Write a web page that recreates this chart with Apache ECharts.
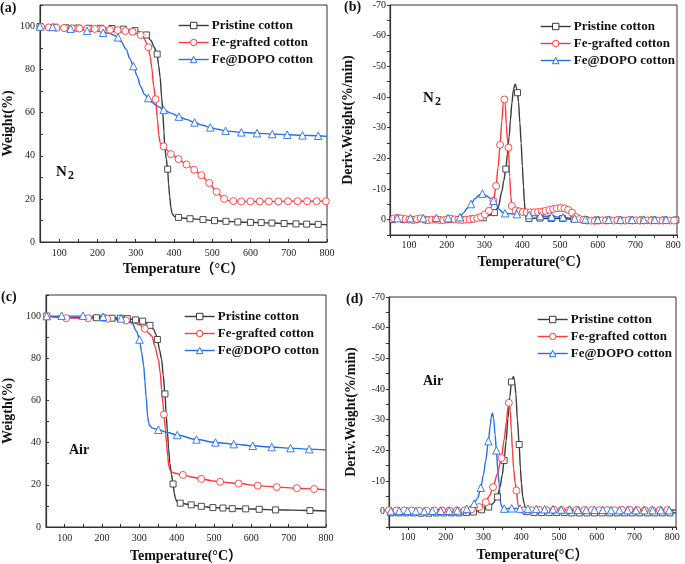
<!DOCTYPE html>
<html><head><meta charset="utf-8">
<script src="https://cdn.jsdelivr.net/npm/echarts@6/dist/echarts.min.js"></script>
<style>html,body{margin:0;padding:0;background:#fff}#c{width:685px;height:564px}</style>
</head><body><div id="c"></div>
<script>
const seriesNames = ['Pristine cotton', 'Fe-grafted cotton', 'Fe@DOPO cotton'];
const panelLabels = ['(a)', '(b)', '(c)', '(d)'];
const xTickLabels = [100, 200, 300, 400, 500, 600, 700, 800];
const tgaTickLabels = [0, 20, 40, 60, 80, 100];
const dtgTickLabels = [-70, -60, -50, -40, -30, -20, -10, 0];

// (a) TGA in N2
const aPristine = [[50,100],[100,99.6],[150,99.3],[200,99.2],[250,99.0],[280,98.6],[300,98.0],[315,97.2],[328,96.1],[340,93.5],[348,90.5],[356,87.2],[360,82],[364,76.5],[368,67],[371,59.8],[374,51],[376,44.3],[380,38.5],[383.6,33.8],[386,27],[389,21],[392,16],[395,13.4],[400,12],[406,11.5],[412,11.3],[442,10.8],[476,10.4],[506,9.9],[536,9.6],[567,9.3],[600,9.1],[628,9.0],[656,8.8],[688,8.6],[719,8.4],[747,8.3],[777,8.2],[800,8.0]];
const aPristineMarks = [[50,100],[88,99.7],[118,99.4],[148,99.3],[178,99.2],[208,99.2],[238,99.1],[268,98.8],[298,98.1],[328,96.1],[356.2,87.2],[383.6,33.8],[411.8,11.4],[442,10.8],[476,10.4],[506,9.9],[536,9.6],[567,9.3],[600,9.1],[628,9.0],[656,8.8],[688,8.6],[719,8.4],[747,8.3],[777,8.2]];
const aFe = [[50,100],[100,99.4],[150,99.1],[200,98.9],[250,98.3],[275,97.9],[292,97.6],[305,96.9],[313,96.1],[322,94.5],[328,92.5],[333,90.4],[338,86],[342,81],[347,72.5],[352,66.3],[357,56.7],[360.5,49.5],[364,46],[368,44.9],[373,44.4],[380,43],[392,40.8],[412,38.5],[433,36],[453,33.5],[471.5,31],[492,27.4],[511.6,23.3],[531,20],[545,19.1],[555,18.9],[600,18.8],[650,18.8],[700,18.9],[750,18.9],[800,18.9]];
const aFeMarks = [[53,99.8],[73,99.6],[93,99.4],[113,99.3],[133,99.2],[153,99.1],[173,99.0],[193,98.9],[213,98.8],[233,98.5],[253,98.3],[273,97.9],[292,97.6],[313,96.1],[333,90.4],[352,66.3],[373,44.4],[392,40.8],[412,38.5],[433,36],[453,33.5],[471.5,31],[492,27.4],[511.6,23.3],[531,20],[555,19],[576,18.8],[600,18.8],[624,18.8],[648,18.8],[673,18.8],[698,18.9],[723,18.9],[748,18.9],[773,18.9],[797,18.9]];
const aDopo = [[50,100],[100,99.3],[150,98.6],[200,97.8],[230,96.9],[250,95.5],[262,93],[275,89.5],[285,85],[294,81.7],[304,77],[313,72.2],[323,68.5],[333,66.8],[345,64.5],[352,63.7],[362,62.5],[373,61.3],[393,59.8],[413,58.2],[434,56.8],[454,55.5],[475,54.2],[495,53.2],[515,52.3],[535,51.6],[575,50.9],[616,50.5],[657,50.1],[696,49.8],[736,49.5],[777,49.3],[800,49.0]];
const aDopoMarks = [[50,100],[83,99.8],[130,99],[173,98],[215,97.1],[254,95],[294,81.7],[333,66.8],[373,61.3],[413,58.2],[454,55.5],[495,53.2],[535,51.6],[576,50.9],[617,50.5],[657,50.1],[696,49.8],[736,49.5],[777,49.3]];

// (b) DTG in N2
const bPristine = [[50,0],[100,0],[150,0.1],[200,0],[250,0],[280,-0.3],[300,-0.7],[315,-1.5],[326,-2.3],[337,-4.2],[346,-9.1],[351,-12.5],[356.7,-16.5],[361,-21.5],[365.5,-27],[369,-32.5],[372.6,-37.9],[377,-42.5],[381.4,-44.2],[384.5,-43.3],[387.6,-41.4],[390.2,-38.5],[394,-31.5],[397.3,-24.9],[400.5,-17.5],[403.5,-10.8],[406,-5.5],[408,-2.6],[411,-0.9],[418,-0.4],[440,-0.5],[470,-0.4],[500,-0.4],[530,-0.2],[560,0],[600,0.1],[650,0.1],[700,0.1],[750,0.1],[810,0.1]];
const bPristineMarks = [[57,0],[87,0],[117,0],[147,0.1],[177,0],[207,0],[237,0],[267,-0.2],[297,-0.6],[326.4,-2.3],[356.7,-16.5],[387.6,-41.4],[418,-0.4],[447,-0.5],[477,-0.4],[507,-0.4],[537,-0.2],[567,0],[597,0.1],[627,0.1],[657,0.1],[687,0.1],[717,0.1],[747,0.1],[777,0.1],[807,0.1]];
const bFe = [[50,-0.3],[70,-0.6],[90,-0.2],[110,0.1],[130,-0.4],[150,0.2],[170,-0.1],[190,0.2],[210,-0.3],[230,0],[250,0.1],[265,-0.2],[280,-0.5],[295,-1.2],[305,-2],[315,-3.3],[323.9,-6.1],[331,-11],[336,-17],[341.6,-24.4],[346,-32],[350,-38],[352.5,-40],[355,-38],[358,-31],[361,-26],[363.7,-23.5],[367,-14],[370,-7.5],[372.6,-4.5],[377,-3.3],[383,-3],[390,-2.7],[400,-2.5],[410,-2.4],[420,-2.4],[430,-2.4],[440,-2.5],[450,-2.6],[460,-2.9],[470,-3.2],[480,-3.4],[490,-3.7],[500,-3.8],[510,-3.7],[520,-3.4],[528,-2.6],[535,-1.6],[545,-0.6],[555,-0.1],[570,0.2],[600,0.3],[650,0.2],[700,0.3],[750,0.2],[810,0.3]];
const bFeMarks = [[60,-0.4],[70,-0.6],[80,-0.4],[91,-0.2],[101,0],[111,0.1],[121,-0.2],[131,-0.4],[141,0],[151,0.2],[161,0],[171,-0.1],[181,0.1],[191,0.2],[201,-0.1],[211,-0.3],[221,-0.1],[231,0],[241,0.1],[251,0],[261,-0.1],[271,-0.3],[281,-0.5],[291,-0.9],[301,-1.7],[312,-2.9],[323.9,-6.1],[331,-11],[341.6,-24.4],[353,-39.2],[363.7,-23.5],[372.6,-4.5],[383,-3.0],[392,-2.7],[402,-2.5],[412,-2.4],[422,-2.4],[432,-2.4],[442,-2.5],[452,-2.6],[462,-2.9],[472,-3.2],[482,-3.5],[492,-3.7],[502,-3.8],[512,-3.7],[522,-3.2],[532,-2.3],[542,-0.9],[552,-0.2],[562,0.1],[572,0.3],[582,0.3],[592,0.4],[602,0.3],[612,0.2],[622,0.3],[632,0.2],[642,0.3],[652,0.2],[662,0.3],[672,0.3],[682,0.2],[692,0.3],[702,0.2],[712,0.3],[722,0.3],[732,0.2],[742,0.3],[752,0.2],[762,0.3],[772,0.3],[782,0.2],[792,0.3],[802,0.3]];
const bDopo = [[50,-0.3],[70,-0.5],[104,-0.5],[138,-0.5],[173,-0.6],[204,-0.5],[225,-0.5],[235.4,-0.8],[245,-2.3],[255,-3.8],[264.6,-5.1],[275,-6.8],[285,-8],[294.6,-8.5],[305,-7.8],[315,-7],[323.9,-6.2],[332,-4.8],[340,-3.3],[347,-2.5],[354.9,-2.1],[370,-1.9],[385.9,-1.8],[418.6,-1.5],[447.8,-1.2],[477.9,-1.0],[508,-0.8],[539,-0.4],[567,-0.1],[600,0],[650,0],[700,0],[750,0],[810,0]];
const bDopoMarks = [[69,-0.5],[104,-0.5],[138,-0.5],[173,-0.6],[204,-0.5],[235.4,-0.8],[264.6,-5.1],[294.6,-8.5],[323.9,-6.2],[354.9,-2.1],[385.9,-1.8],[418.6,-1.5],[447.8,-1.2],[477.9,-1.0],[508,-0.8],[539,-0.4],[567,-0.1],[600,0],[629,0],[660,0],[691,0],[722,0],[751,0],[781,0]];

// (c) TGA in air
const cPristine = [[50,100],[100,99.5],[150,99.3],[200,99.2],[250,99],[280,98.5],[300,97.9],[309,97.6],[320,96.7],[328.5,95.6],[338,93.8],[344,91.5],[348.4,88.9],[354,84],[359.8,79.4],[364,72],[368.6,63.1],[372,53],[375.5,44.6],[378.5,37],[381.6,30.3],[386,25],[390.4,20.4],[393.5,16],[396.5,13.6],[400,12.3],[403.5,11.5],[409.6,11.3],[439,10.5],[466,9.8],[497,9.2],[524,9.0],[549,8.7],[585,8.6],[621,8.4],[665,8.1],[710,8.0],[757,7.8],[800,7.6]];
const cPristineMarks = [[52,100],[185,99.2],[205,99.1],[227,99],[249,99],[268,98.8],[290,98.2],[309,97.6],[328.5,95.6],[348.4,88.9],[368.6,63.1],[390.4,20.4],[409.6,11.3],[439,10.5],[466,9.8],[497,9.2],[524,9.0],[549,8.7],[585,8.6],[621,8.4],[665,8.1],[757,7.8]];
const cFe = [[50,100],[100,99.1],[150,99],[200,98.8],[250,98.3],[264,97.9],[280,97.2],[300,96],[314.5,94],[324,92],[333.7,90.5],[342,85.5],[351,79.4],[356,73],[359.8,65.1],[363,59],[366,53.3],[369.5,46.5],[372.9,39.8],[376,33.5],[379,28.7],[383,26.8],[388,26],[396,25.5],[416.6,24.7],[440,23.7],[466,22.8],[493,22],[516.5,21.4],[566,20.6],[617,19.6],[668,18.9],[722,18.4],[768,18.0],[800,17.6]];
const cFeMarks = [[52,100],[104,99],[163,99],[214,98.7],[264,97.9],[314.5,94],[366,53.3],[416.6,24.7],[466,22.8],[516.5,21.4],[566,20.6],[617,19.6],[668,18.9],[722,18.4],[768,18.0]];
const cDopo = [[50,100],[100,100],[150,100],[203,99.7],[251,98.9],[265,97.9],[281.4,96.5],[292,93],[300.5,88.9],[306,83],[311.9,76.2],[315,69],[318,62],[322.3,52.4],[325,49.5],[327.6,48],[335.4,46.9],[351,46.1],[375,44.8],[401.6,43.6],[453,41.5],[504,40.1],[553,39.3],[604,38.5],[654.5,37.9],[705,37.4],[755,36.9],[800,36.5]];
const cDopoMarks = [[52,100],[92,100.2],[149,100.2],[203,99.7],[251,98.9],[300.5,88.9],[351,46.1],[401.6,43.6],[453,41.5],[504,40.1],[553,39.3],[604,38.5],[654.5,37.9],[705,37.4],[755,36.9]];

// (d) DTG in air
const dPristine = [[50,0.4],[100,0.4],[150,0.5],[200,0.4],[250,0.4],[275,0.1],[290,-0.4],[297,-0.7],[314,-1.5],[325,-2.6],[337,-4.8],[344,-8],[350,-12],[354.8,-16.7],[360,-23],[365,-30.5],[370,-37.5],[374.3,-42.3],[379.6,-44.1],[383,-42],[385.9,-38.5],[390,-30],[394.7,-21.9],[398,-14],[400.8,-9.1],[404,-5],[408,-2.6],[412,-0.6],[418.6,0.2],[450,0.3],[500,0.3],[550,0.4],[600,0.4],[650,0.4],[700,0.4],[750,0.4],[810,0.4]];
const dPristineMarks = [[55,0.4],[75,0.4],[95,0.4],[115,0.4],[135,0.5],[155,0.5],[175,0.4],[195,0.4],[215,0.4],[235,0.4],[255,0.3],[274,0.1],[295,-0.6],[314,-1.5],[337,-4.8],[354.8,-16.7],[374.3,-42.3],[394.7,-21.9],[414,0],[434,0.3],[454,0.3],[474,0.3],[494,0.3],[514,0.3],[534,0.4],[554,0.4],[574,0.4],[594,0.4],[614,0.4],[634,0.4],[654,0.4],[674,0.4],[694,0.4],[714,0.4],[734,0.4],[754,0.4],[774,0.4],[794,0.4]];
const dFe = [[50,-0.5],[100,-0.4],[150,-0.3],[200,-0.4],[250,-0.4],[270,-0.8],[288.5,-1.5],[298,-2.2],[306.2,-3.1],[316,-5.2],[325.6,-8.0],[337,-12.3],[347.7,-17.5],[355,-23.5],[361,-29.5],[365,-34],[368.1,-36.3],[371,-33],[374,-26.5],[376.9,-20],[380,-14],[384,-9.5],[387.5,-6.9],[391.6,-2],[397,-0.7],[405,-0.4],[450,-0.6],[500,-0.5],[550,-0.6],[600,-0.5],[650,-0.5],[700,-0.6],[750,-0.5],[810,-0.5]];
const dFeMarks = [[50,-0.5],[70,-0.4],[90,-0.4],[110,-0.4],[130,-0.3],[150,-0.3],[170,-0.4],[190,-0.4],[210,-0.4],[230,-0.4],[250,-0.4],[269,-0.8],[288.5,-1.5],[306.2,-3.1],[325.6,-8.0],[347.7,-17.5],[367.4,-35.5],[387.5,-6.9],[407,-0.4],[427,-0.5],[447,-0.6],[467,-0.5],[487,-0.6],[507,-0.5],[527,-0.5],[547,-0.6],[567,-0.5],[587,-0.5],[607,-0.5],[627,-0.5],[647,-0.5],[667,-0.6],[687,-0.6],[707,-0.5],[727,-0.5],[747,-0.5],[767,-0.5],[787,-0.5]];
const dDopo = [[50,-0.2],[100,-0.3],[150,-0.2],[200,-0.3],[240,-0.4],[258,-0.9],[275.2,-2.6],[285,-4.5],[293,-7.8],[300,-12],[306,-16.5],[313.2,-23],[318,-28],[321,-31],[323.9,-32.2],[327,-30.5],[331,-25],[334.4,-20],[338,-13.5],[341.6,-9.1],[344,-5],[346,-2.6],[350,-1.3],[355,-1.0],[375,-1.1],[397,-1.0],[420,-1.0],[450,-0.9],[500,-0.7],[550,-0.6],[600,-0.6],[700,-0.5],[810,-0.5]];
const dDopoMarks = [[55,-0.2],[77,-0.3],[99,-0.3],[121,-0.2],[143,-0.2],[165,-0.3],[187,-0.3],[209,-0.3],[231,-0.4],[256,-0.9],[275.2,-2.6],[293,-7.8],[313.2,-23],[334.4,-20],[355,-1.0],[375,-1.1],[397,-1.0],[418,-1.0],[440,-0.9],[462,-0.8],[484,-0.8],[506,-0.7],[528,-0.7],[550,-0.6],[572,-0.6],[594,-0.6],[616,-0.6],[638,-0.5],[660,-0.5],[682,-0.5],[704,-0.5],[726,-0.5],[748,-0.5],[770,-0.5],[792,-0.5]];

const xNames = ['Temperature（°C）', 'Temperature(°C）', 'Temperature(°C）', 'Temperature(°C）'];
const yNames = ['Weight(%)', 'Deriv.Weight(%/min)', 'Weigth(%)', 'Deriv.Weight(%/min)'];

const FONT = "'Liberation Serif','Times New Roman','Noto Sans CJK SC',serif";
const colors = ['#3a3a3a', '#ff3838', '#2470e8'];
const markSymbols = ['rect', 'circle', 'triangle'];
const markSizes = [6, 7, 7.5];

const panels = [
  {lines: [aPristine, aFe, aDopo], marks: [aPristineMarks, aFeMarks, aDopoMarks], grid: {left: 32, top: 5, width: 295, height: 237}, dtg: false, inside: true, xmax: 800, xGap: 20, yGap: 25, legend: {left: 178, top: 19}},
  {lines: [bPristine, bFe, bDopo], marks: [bPristineMarks, bFeMarks, bDopoMarks], grid: {left: 390, top: 5, width: 287, height: 230}, dtg: true, inside: false, xmax: 810, xGap: 20, yGap: 35, legend: {left: 540, top: 20}},
  {lines: [cPristine, cFe, cDopo], marks: [cPristineMarks, cFeMarks, cDopoMarks], grid: {left: 39, top: 295, width: 287, height: 232}, dtg: false, inside: true, xmax: 800, xGap: 22, yGap: 31, legend: {left: 184, top: 310}},
  {lines: [dPristine, dFe, dDopo], marks: [dPristineMarks, dFeMarks, dDopoMarks], grid: {left: 389, top: 297, width: 287, height: 230}, dtg: true, inside: false, xmax: 810, xGap: 21, yGap: 31, legend: {left: 537, top: 313}}
];

const grids = [], xAxes = [], yAxes = [], series = [], legends = [];
panels.forEach((p, i) => {
  grids.push(Object.assign({show: true, borderColor: '#333', borderWidth: 1, backgroundColor: 'transparent'}, p.grid));
  xAxes.push({
    type: 'value', gridIndex: i, min: 50, max: p.xmax, interval: 50,
    name: xNames[i], nameLocation: 'middle', nameGap: p.xGap,
    nameTextStyle: {fontFamily: FONT, fontWeight: 'bold', fontSize: 14, color: '#111'},
    axisLine: {show: true, onZero: false, lineStyle: {color: '#333', width: 1.2}},
    axisTick: {show: true, inside: p.inside, length: 3, lineStyle: {color: '#333'}},
    axisLabel: {fontFamily: FONT, fontSize: 10, color: '#222', margin: p.inside ? 6 : 5,
      formatter: v => (xTickLabels.indexOf(v) >= 0 ? String(v) : '')},
    splitLine: {show: false}
  });
  if (p.dtg) {
    yAxes.push({
      type: 'value', gridIndex: i, min: -70, max: 5, interval: 5, inverse: true,
      name: yNames[i], nameLocation: 'middle', nameGap: p.yGap, nameRotate: 90,
      nameTextStyle: {fontFamily: FONT, fontWeight: 'bold', fontSize: 14, color: '#111'},
      axisLine: {show: true, onZero: false, lineStyle: {color: '#333', width: 1.2}},
      axisTick: {show: true, inside: false, length: 3, lineStyle: {color: '#333'}},
      axisLabel: {fontFamily: FONT, fontSize: 10, color: '#222', margin: 4,
        formatter: v => (dtgTickLabels.indexOf(v) >= 0 ? String(v) : '')},
      splitLine: {show: false}
    });
  } else {
    yAxes.push({
      type: 'value', gridIndex: i, min: 0, max: 110, interval: 10,
      name: yNames[i], nameLocation: 'middle', nameGap: p.yGap, nameRotate: 90,
      nameTextStyle: {fontFamily: FONT, fontWeight: 'bold', fontSize: 14, color: '#111'},
      axisLine: {show: true, onZero: false, lineStyle: {color: '#333', width: 1.2}},
      axisTick: {show: true, inside: true, length: 3, lineStyle: {color: '#333'}},
      axisLabel: {fontFamily: FONT, fontSize: 10, color: '#222', margin: 5,
        formatter: v => (tgaTickLabels.indexOf(v) >= 0 ? String(v) : '')},
      splitLine: {show: false}
    });
  }
  for (let k = 0; k < 3; k++) {
    series.push({
      type: 'line', name: seriesNames[k], xAxisIndex: i, yAxisIndex: i,
      data: p.lines[k], smooth: 0.3, smoothMonotone: 'x', showSymbol: false,
      symbol: markSymbols[k], symbolSize: markSizes[k],
      lineStyle: {color: colors[k], width: 1.4},
      itemStyle: {color: '#ffffff', borderColor: colors[k], borderWidth: 1},
      silent: true, z: 2
    });
    series.push({
      type: 'scatter', name: seriesNames[k] + ' markers ' + i, xAxisIndex: i, yAxisIndex: i,
      data: p.marks[k], symbol: markSymbols[k], symbolSize: markSizes[k],
      itemStyle: {color: '#ffffff', borderColor: colors[k], borderWidth: 0.9, opacity: 1},
      silent: true, z: 3
    });
  }
  legends.push({
    data: seriesNames.slice(), orient: 'vertical', left: p.legend.left, top: p.legend.top,
    padding: 0, itemWidth: 30, itemHeight: 8, itemGap: 4,
    itemStyle: {borderWidth: 1},
    lineStyle: {width: 1.4},
    textStyle: {fontFamily: FONT, fontWeight: 'bold', fontSize: 13, color: '#111', padding: [0, 0, 0, -2]},
    selectedMode: false
  });
});

const txt = (x, y, s, size) => ({type: 'text', left: x, top: y, silent: true,
  style: {text: s, fontFamily: FONT, fontWeight: 'bold', fontSize: size, fill: '#111'}});

const graphics = [
  txt(0, 1, panelLabels[0], 14), txt(344, 0, panelLabels[1], 14),
  txt(1, 290, panelLabels[2], 14), txt(346, 292, panelLabels[3], 14),
  txt(56, 165, 'N', 15), txt(68, 170, '2', 12),
  txt(423, 91, 'N', 15), txt(435, 96, '2', 12),
  txt(69, 443, 'Air', 14),
  txt(423, 374, 'Air', 14)
];

const chart = echarts.init(document.getElementById('c'), null, {renderer: 'canvas'});
chart.setOption({
  animation: false,
  backgroundColor: '#ffffff',
  grid: grids, xAxis: xAxes, yAxis: yAxes, series: series, legend: legends,
  graphic: graphics
});
</script></body></html>
